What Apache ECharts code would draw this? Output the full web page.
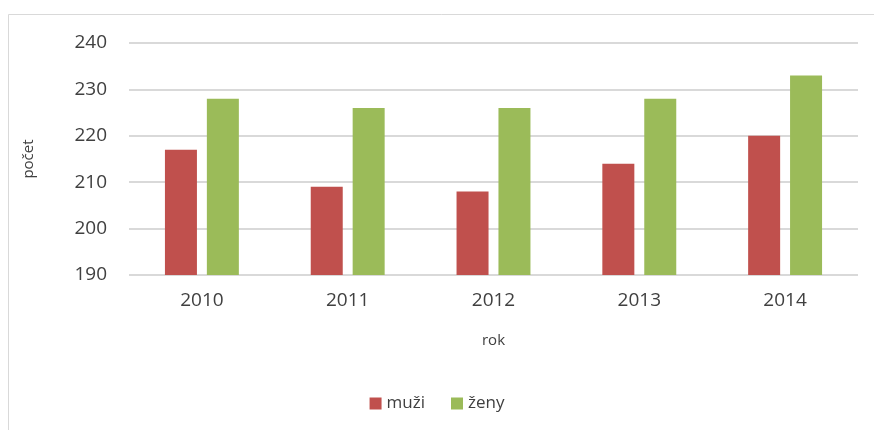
<!DOCTYPE html>
<html>
<head>
<meta charset="utf-8">
<script src="https://cdn.jsdelivr.net/npm/echarts@6/dist/echarts.min.js"></script>
<style>
  html, body { margin: 0; padding: 0; background: #fff; }
  #chart { width: 874px; height: 430px; }
</style>
</head>
<body>
<div id="chart"></div>
<script>
// roky a hodnoty
const years = ['2010', '2011', '2012', '2013', '2014'];
const muzi = [217, 209, 208, 214, 220];
const zeny = [228, 226, 226, 228, 233];

const chart = echarts.init(document.getElementById('chart'));
const font = 'Open Sans';
chart.setOption({
  backgroundColor: '#ffffff',
  color: ['#C0504D', '#9BBB59'],
  textStyle: { fontFamily: font },
  graphic: [{
    type: 'rect',
    shape: { x: 8.5, y: 14.5, width: 900, height: 450 },
    style: { fill: 'none', stroke: '#d9d9d9', lineWidth: 1 },
    silent: true
  }],
  grid: { left: 129, right: 16, top: 43, bottom: 155 },
  legend: {
    bottom: 13,
    left: 'center',
    itemWidth: 12,
    itemHeight: 12,
    itemGap: 26,
    icon: 'rect',
    textStyle: { fontSize: 17, color: '#404040', fontFamily: font },
    data: ['muži', 'ženy']
  },
  xAxis: {
    type: 'category',
    data: years,
    name: 'rok',
    nameLocation: 'middle',
    nameGap: 58,
    nameTextStyle: { fontSize: 15, color: '#404040' },
    axisLine: { show: false },
    axisTick: { show: false },
    axisLabel: { fontSize: 19, color: '#404040', margin: 16 }
  },
  yAxis: {
    type: 'value',
    min: 190,
    max: 240,
    interval: 10,
    name: 'počet',
    nameLocation: 'middle',
    nameGap: 93,
    nameTextStyle: { fontSize: 15, color: '#404040' },
    axisLine: { show: false },
    axisTick: { show: false },
    axisLabel: { fontSize: 19, color: '#404040', margin: 22 },
    splitLine: { lineStyle: { color: '#d9d9d9', width: 2 } }
  },
  series: [
    { name: 'muži', type: 'bar', data: muzi, barWidth: 32, barGap: '31%' },
    { name: 'ženy', type: 'bar', data: zeny, barWidth: 32, barGap: '31%' }
  ]
});
</script>
</body>
</html>
